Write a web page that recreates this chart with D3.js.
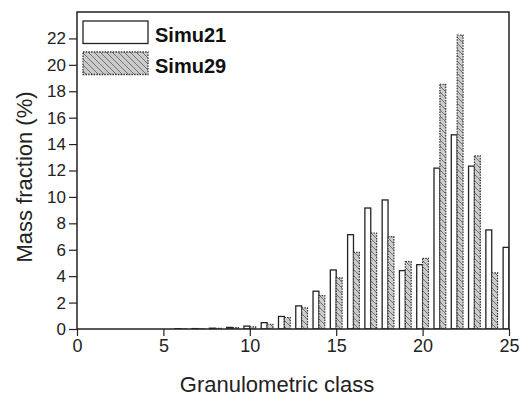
<!DOCTYPE html>
<html><head><meta charset="utf-8">
<script src="https://cdn.jsdelivr.net/npm/d3@7"></script>
<style>body{margin:0;background:#fff}svg{display:block}</style>
</head><body>
<svg id="c" width="526" height="397"></svg>
<script>
const classes = [6,7,8,9,10,11,12,13,14,15,16,17,18,19,20,21,22,23,24,25];
const simu21 = [0.02,0.03,0.06,0.12,0.22,0.48,0.95,1.75,2.86,4.47,7.14,9.16,9.77,4.42,4.87,12.18,14.7,12.33,7.5,6.18];
const simu29 = [0.02,0.03,0.05,0.1,0.16,0.36,0.87,1.6,2.53,3.87,5.8,7.27,6.99,5.1,5.35,18.53,22.26,13.11,4.25,0.9];
const xTicks = [0,5,10,15,20,25];
const yTicks = [0,2,4,6,8,10,12,14,16,18,20,22];
const seriesNames = ["Simu21","Simu29"];

const svg = d3.select("#c");
const L=77, R=509, T=12, B=329;
const x = d3.scaleLinear().domain([0,25]).range([L,R]);
const y = d3.scaleLinear().domain([0,24]).range([B,T]);
const bw = 0.34;
const font = "Liberation Sans, Arial, sans-serif";

const defs = svg.append("defs");
const pat = defs.append("pattern").attr("id","hatch").attr("patternUnits","userSpaceOnUse")
  .attr("width",6).attr("height",6);
pat.append("rect").attr("width",6).attr("height",6).attr("fill","#cbcbcb");
pat.append("path").attr("d","M-1,-1L7,7M-1,5L1,7M5,-1L7,1").attr("stroke","#5a5a5a").attr("stroke-width",0.8);
defs.append("clipPath").attr("id","clip").append("rect").attr("x",L).attr("y",T).attr("width",R-L).attr("height",B-T);

const g = svg.append("g").attr("clip-path","url(#clip)");
g.selectAll("rect.s21").data(classes).join("rect")
  .attr("x",(d)=>x(d-bw)).attr("width",x(bw)-x(0))
  .attr("y",(d,i)=>y(simu21[i])).attr("height",(d,i)=>y(0)-y(simu21[i]))
  .attr("fill","#fff").attr("stroke","#222").attr("stroke-width",1.3);
g.selectAll("rect.s29").data(classes).join("rect")
  .attr("x",(d)=>x(d)).attr("width",x(bw)-x(0))
  .attr("y",(d,i)=>y(simu29[i])).attr("height",(d,i)=>y(0)-y(simu29[i]))
  .attr("fill","url(#hatch)").attr("stroke","#333").attr("stroke-width",1.2).attr("stroke-dasharray","1.5,1.2");

// frame
svg.append("rect").attr("x",L).attr("y",T).attr("width",R-L).attr("height",B-T)
  .attr("fill","none").attr("stroke","#222").attr("stroke-width",1.5);

// x axis
const xa = svg.append("g").attr("transform",`translate(0,${B})`);
xa.call(d3.axisBottom(x).tickValues(d3.range(0,26,1)).tickSize(4).tickFormat(""))
  .call(s=>s.select(".domain").remove());
xa.call(d3.axisBottom(x).tickValues(xTicks).tickSize(7).tickPadding(3).tickFormat(d3.format("d")))
  .call(s=>s.select(".domain").remove());
xa.selectAll("line").attr("stroke","#222").attr("stroke-width",1.2);
xa.selectAll("text").attr("font-family",font).attr("font-size",18).attr("fill","#222");

const ya = svg.append("g").attr("transform",`translate(${L},0)`);
ya.call(d3.axisLeft(y).tickValues(d3.range(0,24,1)).tickSize(4).tickFormat(""))
  .call(s=>s.select(".domain").remove());
ya.call(d3.axisLeft(y).tickValues(yTicks).tickSize(8).tickPadding(3).tickFormat(d3.format("d")))
  .call(s=>s.select(".domain").remove());
ya.selectAll("line").attr("stroke","#222").attr("stroke-width",1.2);
ya.selectAll("text").attr("font-family",font).attr("font-size",17).attr("fill","#222");

svg.append("text").attr("x",277).attr("y",392).attr("text-anchor","middle")
  .attr("font-family",font).attr("font-size",22).attr("fill","#222").text("Granulometric class");
svg.append("text").attr("transform",`translate(32,177) rotate(-90)`).attr("text-anchor","middle")
  .attr("font-family",font).attr("font-size",22).attr("fill","#222").text("Mass fraction (%)");

// legend
const lg = svg.append("g");
const lItems = [{fill:"#fff",stroke:"#222",dash:null,y:21,ty:41.5},{fill:"url(#hatch)",stroke:"#333",dash:"1.5,1.2",y:52,ty:73}];
lItems.forEach((it,i)=>{
  lg.append("rect").attr("x",83).attr("y",it.y).attr("width",65).attr("height",22.5)
    .attr("fill",it.fill).attr("stroke",it.stroke).attr("stroke-width",1.3).attr("stroke-dasharray",it.dash);
  lg.append("text").attr("x",155).attr("y",it.ty).attr("font-family",font).attr("font-weight","bold")
    .attr("font-size",20).attr("fill","#111").text(seriesNames[i]);
});
</script>
</body></html>
